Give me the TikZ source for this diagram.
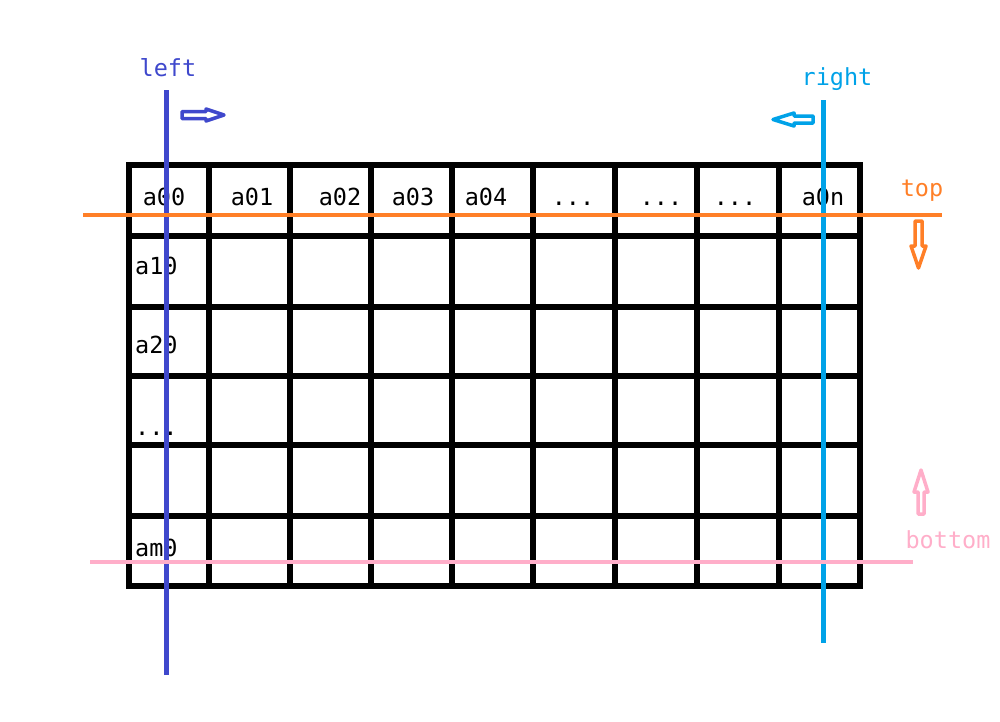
\documentclass[tikz,border=0pt]{standalone}
\usepackage{fontspec}
\setmonofont{DejaVu Sans Mono}
\definecolor{cblue}{RGB}{63,72,204}
\definecolor{ccyan}{RGB}{0,162,232}
\definecolor{corange}{RGB}{255,127,39}
\definecolor{cpink}{RGB}{255,174,201}
\begin{document}
\begin{tikzpicture}[x=1pt,y=-1pt,
  gridline/.style={line width=5.5pt,line cap=rect},
  cell/.style={font=\ttfamily\fontsize{23.5}{27}\selectfont,inner sep=0pt,anchor=base},
  rowlbl/.style={cell,anchor=base west},
  lbl/.style={font=\ttfamily\fontsize{23.5}{27}\selectfont,inner sep=0pt,anchor=base},
  pointer/.style={line width=5pt},
  hollowarrow/.style={line width=3.5pt,line join=round}]
\useasboundingbox (0,0) rectangle (1000,721);
% grid
\foreach \x in {129,209,290,371,452,533,615,697,779,860}
  \draw[gridline] (\x,165) -- (\x,586);
\foreach \y in {165,236,307,376,445,516,586}
  \draw[gridline] (129,\y) -- (860,\y);
% cell texts
\node[cell] (a00) at (164,205) {a00};
\node[cell] (a01) at (252,205) {a01};
\node[cell] (a02) at (340,205) {a02};
\node[cell] (a03) at (413,205) {a03};
\node[cell] (a04) at (486,205) {a04};
\node[cell] (d1) at (573,205) {...};
\node[cell] (d2) at (661,205) {...};
\node[cell] (d3) at (735,205) {...};
\node[cell] (a0n) at (823,205) {a0n};
\node[rowlbl] (a10) at (135,274) {a10};
\node[rowlbl] (a20) at (135,353) {a20};
\node[rowlbl] (d4) at (135,435) {...};
\node[rowlbl] (am0) at (135,556) {am0};
% labels
\node[lbl,text=cblue] (left) at (168,76) {left};
\node[lbl,text=ccyan] (right) at (837,85) {right};
\node[lbl,text=corange] (top) at (922,196) {top};
\node[lbl,text=cpink] (bottom) at (948,548) {bottom};
% pointer lines
\coordinate (l1) at (166.5,90);  \coordinate (l2) at (166.5,675);
\coordinate (r1) at (823,100);   \coordinate (r2) at (823,643);
\coordinate (t1) at (83,215);    \coordinate (t2) at (942,215);
\coordinate (b1) at (90,562);    \coordinate (b2) at (913,562);
\draw[pointer,cblue] (l1) -- (l2);
\draw[pointer,ccyan] (r1) -- (r2);
\draw[line width=4pt,corange] (t1) -- (t2);
\draw[line width=4pt,cpink] (b1) -- (b2);
% hollow arrows
\draw[hollowarrow,cblue] (182,111.5) -- (206,111.5) -- (206,109) -- (224,115) -- (206,121) -- (206,118.5) -- (182,118.5) -- cycle;
\draw[hollowarrow,ccyan] (813,116) -- (794,116) -- (794,113) -- (773,119.5) -- (794,126) -- (794,123) -- (813,123) -- cycle;
\draw[hollowarrow,corange] (915,221) -- (922,221) -- (922,246) -- (926,246) -- (918.5,268) -- (911,246) -- (915,246) -- cycle;
\draw[hollowarrow,cpink] (918,514) -- (924,514) -- (924,492) -- (928,492) -- (921,470) -- (914,492) -- (918,492) -- cycle;
\end{tikzpicture}
\end{document}
